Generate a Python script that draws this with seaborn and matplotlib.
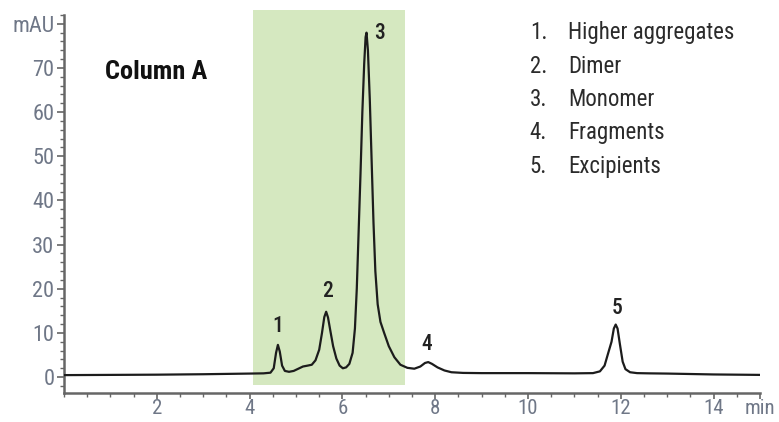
import numpy as np
import pandas as pd
import matplotlib
matplotlib.use("Agg")
import matplotlib.pyplot as plt
from matplotlib.ticker import MultipleLocator, FixedLocator
from matplotlib.patches import Rectangle
import seaborn as sns

# ---- data ----
time_min = [0.0, 1.0, 2.0, 3.0, 4.0, 4.3, 4.45, 4.52, 4.57, 4.61, 4.65, 4.70, 4.76,
            4.85, 4.95, 5.05, 5.15, 5.25, 5.34, 5.42, 5.50, 5.56, 5.61, 5.65, 5.69,
            5.74, 5.80, 5.87, 5.94, 6.01, 6.08, 6.15, 6.22, 6.27, 6.31, 6.35, 6.39,
            6.43, 6.47, 6.50, 6.52, 6.55, 6.59, 6.63, 6.67, 6.71, 6.76, 6.82, 6.90,
            7.00, 7.12, 7.25, 7.40, 7.55, 7.68, 7.78, 7.85, 7.93, 8.05, 8.20, 8.35,
            8.60, 9.00, 10.0, 11.0, 11.40, 11.55, 11.65, 11.73, 11.80, 11.85, 11.89,
            11.93, 11.98, 12.04, 12.10, 12.20, 12.35, 12.60, 13.0, 14.0, 15.0]
signal_mau = [0.45, 0.5, 0.55, 0.65, 0.8, 0.85, 1.0, 2.0, 5.5, 7.3, 5.8, 2.6, 1.4,
              1.2, 1.4, 1.9, 2.4, 2.6, 2.8, 3.8, 6.2, 10.0, 13.6, 14.8, 13.5,
              10.5, 7.0, 4.2, 2.6, 2.0, 2.2, 3.0, 5.5, 11.0, 20.0, 33.0, 46.0,
              60.0, 71.0, 77.0, 78.0, 74.0, 63.0, 49.0, 35.0, 24.0, 16.5, 12.5, 10.0,
              7.0, 4.5, 2.8, 2.1, 1.9, 2.4, 3.2, 3.4, 3.0, 2.2, 1.5, 1.1,
              0.95, 0.9, 0.9, 0.85, 0.9, 1.3, 2.6, 5.5, 8.0, 11.0, 11.9,
              11.0, 7.5, 3.5, 1.8, 1.1, 0.9, 0.85, 0.8, 0.6, 0.5]

peak_labels = ["1", "2", "3", "4", "5"]
peak_label_x = [4.61, 5.67, 6.81, 7.82, 11.92]
peak_label_y = [11.6, 19.5, 78.0, 7.5, 15.6]

legend_numbers = ["1.", "2.", "3.", "4.", "5."]
legend_names = ["Higher aggregates", "Dimer", "Monomer", "Fragments", "Excipients"]

x_tick_values = [2, 4, 6, 8, 10, 12, 14, 15]
x_tick_labels = ["2", "4", "6", "8", "10", "12", "14", "min"]
y_tick_values = [0, 10, 20, 30, 40, 50, 60, 70, 80]
y_tick_labels = ["0", "10", "20", "30", "40", "50", "60", "70", "mAU"]

highlight_start, highlight_end = 4.07, 7.35

# ---- plot ----
sns.set_style("ticks")
plt.rcParams['font.family'] = ['Roboto Condensed', 'DejaVu Sans']

fig = plt.figure(figsize=(7.79, 4.22), dpi=100)
ax = fig.add_axes([64 / 779, 29 / 422, (760 - 64) / 779, (393 - 15) / 422])

df = pd.DataFrame({"time": time_min, "signal": signal_mau})

ax.set_xlim(0, 15)
ax.set_ylim(-3.6, 82)

rect = Rectangle((highlight_start, -1.8), highlight_end - highlight_start, 85.0,
                 facecolor="#d5e8c0", edgecolor="none", zorder=0, clip_on=False)
ax.add_patch(rect)

sns.lineplot(data=df, x="time", y="signal", ax=ax, color="#1c1c1c",
             linewidth=1.6, zorder=3)

ax.set_xlabel("")
ax.set_ylabel("")

tick_color = "#6f7787"
ax.xaxis.set_major_locator(FixedLocator(x_tick_values))
ax.set_xticklabels(x_tick_labels)
ax.xaxis.set_minor_locator(MultipleLocator(0.5))
ax.yaxis.set_major_locator(FixedLocator(y_tick_values))
ax.set_yticklabels(y_tick_labels)
ax.yaxis.set_minor_locator(MultipleLocator(2))

ax.tick_params(axis="y", which="major", labelsize=16, colors="#666666",
               labelcolor=tick_color, width=1.2, length=5, pad=2)
ax.tick_params(axis="x", which="major", labelsize=15, colors="#666666",
               labelcolor=tick_color, width=1.2, length=4, pad=0)
ax.tick_params(axis="both", which="minor", colors="#666666", width=1.0, length=3)

for side in ["top", "right"]:
    ax.spines[side].set_visible(False)
for side in ["left", "bottom"]:
    ax.spines[side].set_color("#666666")
    ax.spines[side].set_linewidth(1.8)

for lab, xx, yy in zip(peak_labels, peak_label_x, peak_label_y):
    ax.text(xx, yy, lab, ha="center", va="center", fontsize=15.5,
            color="#222222", fontweight="medium")

ax.text(0.88, 69.0, "Column A", ha="left", va="center", fontsize=19,
        fontweight="bold", color="#111111")

row_y = [78.0, 70.3, 62.8, 55.3, 47.8]
for num, name, yy in zip(legend_numbers, legend_names, row_y):
    ax.text(10.04, yy, num, ha="left", va="center", fontsize=16.5, color="#2b2b2b")
    ax.text(10.86, yy, name, ha="left", va="center", fontsize=16.5, color="#2b2b2b")

fig.savefig("out.png", dpi=100)
